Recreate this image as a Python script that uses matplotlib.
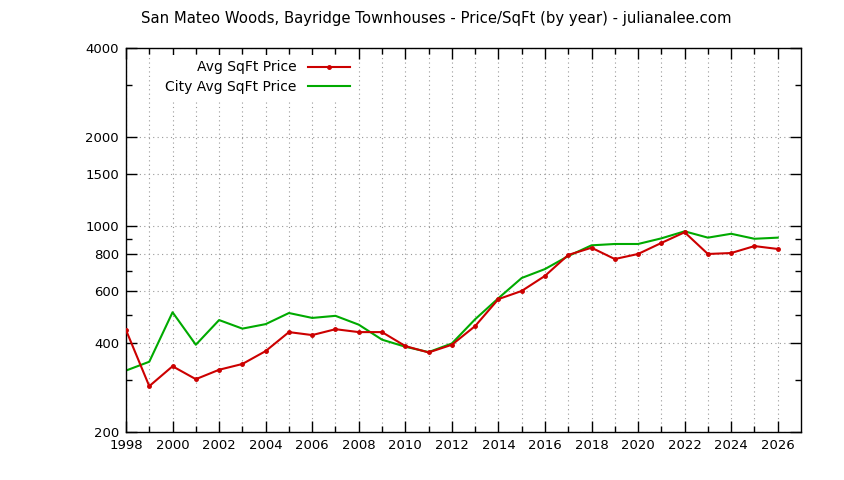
import matplotlib.pyplot as plt
from matplotlib.ticker import FixedLocator, NullFormatter

years = list(range(1998, 2027))
avg_price = [443, 286, 334, 302, 325, 340, 376, 436, 426, 446, 436, 436, 391, 372, 395,
             457, 564, 601, 676, 796, 842, 771, 802, 874, 950, 802, 808, 853, 834]
city_price = [323, 346, 509, 395, 479, 448, 464, 506, 487, 495, 462, 411, 389, 373, 399,
              482, 568, 665, 713, 789, 858, 867, 867, 906, 957, 911, 939, 903, 911]

y_major = [200, 400, 600, 800, 1000, 1500, 2000, 4000]
y_minor = [300, 500, 700, 900, 3000]

plt.rcParams['font.family'] = 'DejaVu Sans'
plt.rcParams['font.size'] = 9.5

fig = plt.figure(figsize=(8.44, 4.8), dpi=100)
ax = fig.add_axes([126 / 844, 0.1, 675 / 844, 0.8])

ax.plot(years, avg_price, color='#cc0000', lw=1.5, marker='o', ms=2.5,
        label='Avg SqFt Price', zorder=3)
ax.plot(years, city_price, color='#00aa00', lw=1.5, label='City Avg SqFt Price', zorder=2)

ax.set_yscale('log')
ax.set_ylim(200, 4000)
ax.set_xlim(1998, 2027)

ax.yaxis.set_major_locator(FixedLocator(y_major))
ax.yaxis.set_minor_locator(FixedLocator(y_minor))
ax.set_yticklabels([str(v) for v in y_major])
ax.yaxis.set_minor_formatter(NullFormatter())

ax.set_xticks(range(1998, 2027, 2))
ax.set_xticks(range(1999, 2027, 2), minor=True)

ax.tick_params(which='both', direction='in', top=True, right=True, width=1)
ax.tick_params(which='major', length=8, pad=5)
ax.tick_params(which='minor', length=4)

ax.grid(True, which='major', axis='y', color='#999999', linestyle=(0, (1, 3)), lw=0.8)
ax.grid(True, which='both', axis='x', color='#999999', linestyle=(0, (1, 3)), lw=0.8)

for s in ax.spines.values():
    s.set_linewidth(1)

leg = ax.legend(loc='upper right', bbox_to_anchor=(236 / 675, 1.0), markerfirst=False,
                frameon=True, fancybox=False, edgecolor='none', facecolor='white',
                framealpha=1, handlelength=3.0, handletextpad=0.8, labelspacing=0.4,
                borderpad=0.4, fontsize=10)
leg.set_zorder(5)

fig.text(436 / 844, 1 - 19 / 480, 'San Mateo Woods, Bayridge Townhouses - Price/SqFt (by year) - julianalee.com',
         ha='center', va='center', fontsize=10.7)

fig.savefig('out.png', dpi=100)
